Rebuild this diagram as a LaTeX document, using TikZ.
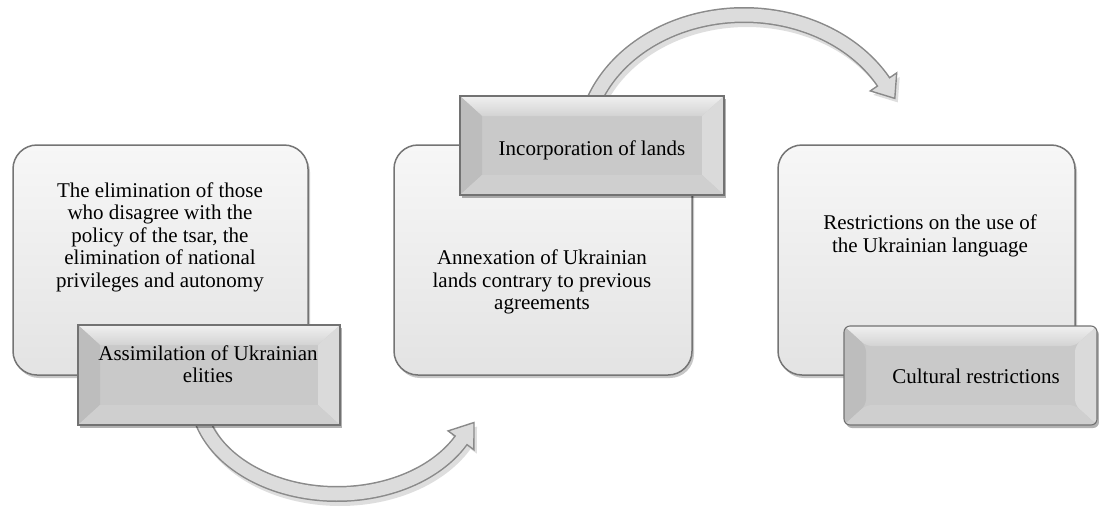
\documentclass[tikz,border=0pt]{standalone}
\usepackage{fontspec}
\setmainfont{Liberation Serif}
\usetikzlibrary{shadows,calc}
\definecolor{boxline}{HTML}{747474}
\definecolor{boxtop}{HTML}{F7F7F7}
\definecolor{boxbot}{HTML}{E3E3E3}
\definecolor{lblface}{HTML}{C9C9C9}
\definecolor{lbltopA}{HTML}{F0F0F0}
\definecolor{lbltopB}{HTML}{D3D3D3}
\definecolor{lblleft}{HTML}{BDBDBD}
\definecolor{lblright}{HTML}{DADADA}
\definecolor{lblbot}{HTML}{CFCFCF}
\definecolor{lblline}{HTML}{727272}
\definecolor{arrfill}{HTML}{DCDCDC}
\definecolor{arrline}{HTML}{8A8A8A}
\tikzset{
  bigbox/.style={draw=boxline, line width=1.5pt, rounded corners=24pt,
    top color=boxtop, bottom color=boxbot, inner sep=0pt,
    drop shadow={shadow xshift=2pt, shadow yshift=-3pt, opacity=.22, fill=black}},
  bevelbox/.style={draw=lblline, line width=1.1pt, fill=lblface, inner sep=0pt,
    drop shadow={shadow xshift=2pt, shadow yshift=-3pt, opacity=.3, fill=black},
    path picture={
      \coordinate (pNW) at (path picture bounding box.north west);
      \coordinate (pNE) at (path picture bounding box.north east);
      \coordinate (pSW) at (path picture bounding box.south west);
      \coordinate (pSE) at (path picture bounding box.south east);
      \coordinate (iNW) at ($(pNW)+(22pt,-20pt)$);
      \coordinate (iNE) at ($(pNE)+(-22pt,-20pt)$);
      \coordinate (iSW) at ($(pSW)+(22pt,20pt)$);
      \coordinate (iSE) at ($(pSE)+(-22pt,20pt)$);
      \shade[top color=lbltopA, bottom color=lbltopB] (pNW) -- (pNE) -- (iNE) -- (iNW) -- cycle;
      \fill[lblleft] (pNW) -- (iNW) -- (iSW) -- (pSW) -- cycle;
      \fill[lblright] (pNE) -- (pSE) -- (iSE) -- (iNE) -- cycle;
      \fill[lblbot] (pSW) -- (iSW) -- (iSE) -- (pSE) -- cycle;
    }},
  txt/.style={align=center, inner sep=0pt, text=black,
    font=\fontsize{21pt}{22.5pt}\selectfont},
  arrshadow/.style={line width=16pt, black, opacity=.13},
  arrout/.style={line width=16pt, arrline},
  arrin/.style={line width=13pt, arrfill},
  arrhead/.style={fill=arrfill, draw=arrline, line width=1.4pt, line join=miter},
}
\begin{document}
\begin{tikzpicture}[x=1pt,y=-1pt]
\useasboundingbox[fill=white] (0,0) rectangle (1099,506);

% large boxes
\node[bigbox, minimum width=295pt, minimum height=230pt] (b1) at (160.5,260) {};
\node[bigbox, minimum width=298pt, minimum height=230pt] (b2) at (543,260) {};
\node[bigbox, minimum width=297pt, minimum height=230pt] (b3) at (926.5,260) {};

% arrow 1 (bottom)
\begin{scope}[shift={(3pt,-4pt)}]
\draw[arrshadow] plot[domain=165:27.6, samples=60, smooth] ({337+140*cos(\x)},{394+100*sin(\x)});
\fill[black, opacity=.13] (474.0,422.5) -- (473.9,449.7) -- (448.1,430.9) -- cycle;
\end{scope}
\draw[arrout] plot[domain=165:27.6, samples=60, smooth] ({337+140*cos(\x)},{394+100*sin(\x)});
\draw[arrhead] (474.0,422.5) coordinate (h1) -- (473.9,449.7) -- (448.1,430.9) -- cycle;
\draw[arrin] plot[domain=165:25, samples=60, smooth] ({337+140*cos(\x)},{394+100*sin(\x)});

% arrow 2 (top)
\begin{scope}[shift={(3pt,-4pt)}]
\draw[arrshadow] plot[domain=-162:-29.3, samples=60, smooth] ({744+160*cos(\x)},{146+131*sin(\x)});
\fill[black, opacity=.13] (894.8,98.4) -- (896.7,72.9) -- (870.3,90.9) -- cycle;
\end{scope}
\draw[arrout] plot[domain=-162:-29.3, samples=60, smooth] ({744+160*cos(\x)},{146+131*sin(\x)});
\draw[arrhead] (894.8,98.4) coordinate (h2) -- (896.7,72.9) -- (870.3,90.9) -- cycle;
\draw[arrin] plot[domain=-162:-27, samples=60, smooth] ({744+160*cos(\x)},{146+131*sin(\x)});

% bevel labels
\node[bevelbox, minimum width=262pt, minimum height=100pt] (l1) at (209,375) {};
\node[bevelbox, minimum width=264pt, minimum height=99pt] (l2) at (592,145.5) {};
\node[bevelbox, rounded corners=6pt, minimum width=253pt, minimum height=99pt] (l3) at (970.5,375.5) {};

% texts
\node[txt] (t1) at (160,237) {The elimination of those\\who disagree with the\\policy of the tsar, the\\elimination of national\\privileges and autonomy};
\node[txt] (t2) at (542,282) {Annexation of Ukrainian\\lands contrary to previous\\agreements};
\node[txt] (t3) at (930,236) {Restrictions on the use of\\the Ukrainian language};
\node[txt] (tl1) at (208,364) {Assimilation of Ukrainian\\elities};
\node[txt] (tl2) at (592,150) {Incorporation of lands};
\node[txt] (tl3) at (976,376) {Cultural restrictions};
\end{tikzpicture}
\end{document}
